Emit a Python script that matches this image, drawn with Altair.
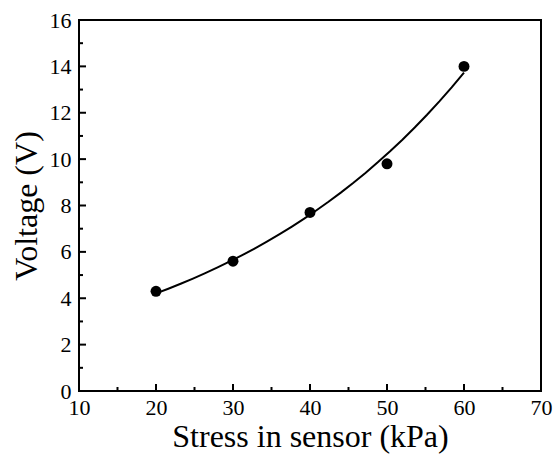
import altair as alt
import pandas as pd

stress = [20, 30, 40, 50, 60]
voltage = [4.3, 5.6, 7.7, 9.8, 14.0]

x_major = [10, 20, 30, 40, 50, 60, 70]
x_minor = [15, 25, 35, 45, 55, 65]
y_major = [0, 2, 4, 6, 8, 10, 12, 14, 16]
y_minor = [1, 3, 5, 7, 9, 11, 13, 15]

df = pd.DataFrame({"stress": stress, "voltage": voltage})
W, H = 462, 371
FONT = "Liberation Serif"

xs = alt.Scale(domain=[10, 70], nice=False, zero=False)
ys = alt.Scale(domain=[0, 16], nice=False, zero=False)
common = dict(domain=False, ticks=False, grid=False,
              labelFontSize=22, labelFont=FONT, labelColor="black", titleFont=FONT,
              titleFontSize=32, titleFontWeight="normal", titleColor="black",
              labelFlush=False)
xa = alt.Axis(values=x_major, title="Stress in sensor (kPa)", titlePadding=3,
              labelPadding=6, **common)
ya = alt.Axis(values=y_major, title="Voltage (V)", titlePadding=6, labelPadding=8, **common)

base = alt.Chart(df)

curve = base.mark_line(color="black", strokeWidth=2).transform_regression(
    "stress", "voltage", method="exp", extent=[20, 60]
).encode(
    x=alt.X("stress:Q", scale=xs, axis=xa),
    y=alt.Y("voltage:Q", scale=ys, axis=ya),
)

points = base.mark_circle(color="black", opacity=1, size=120).encode(
    x=alt.X("stress:Q", scale=xs, axis=xa), y=alt.Y("voltage:Q", scale=ys, axis=ya)
)

def xticks(vals, length):
    return alt.Chart(pd.DataFrame({"v": vals})).mark_rule(color="black", strokeWidth=2).encode(
        x=alt.X("v:Q", scale=xs, axis=xa), y=alt.value(H), y2=alt.value(H - length)
    )

def yticks(vals, length):
    return alt.Chart(pd.DataFrame({"v": vals})).mark_rule(color="black", strokeWidth=2).encode(
        y=alt.Y("v:Q", scale=ys, axis=ya), x=alt.value(0), x2=alt.value(length)
    )

frame_src = alt.Chart(pd.DataFrame({"k": [0]}))
frame_style = dict(color="black", strokeWidth=2, strokeCap="square")
frame = alt.layer(
    frame_src.mark_rule(**frame_style).encode(x=alt.value(0), y=alt.value(0), y2=alt.value(H)),
    frame_src.mark_rule(**frame_style).encode(x=alt.value(W), y=alt.value(0), y2=alt.value(H)),
    frame_src.mark_rule(**frame_style).encode(y=alt.value(0), x=alt.value(0), x2=alt.value(W)),
    frame_src.mark_rule(**frame_style).encode(y=alt.value(H), x=alt.value(0), x2=alt.value(W)),
)

chart = alt.layer(
    curve, points, xticks(x_major, 7), xticks(x_minor, 4), yticks(y_major, 7), yticks(y_minor, 4),
    frame
).properties(
    width=W, height=H,
    autosize=alt.AutoSizeParams(type="none"),
    padding={"left": 79, "top": 20, "right": 14, "bottom": 67},
    background="white",
).configure_view(strokeWidth=0)

chart.save("out.html", embed_options={"renderer": "svg", "actions": False})
